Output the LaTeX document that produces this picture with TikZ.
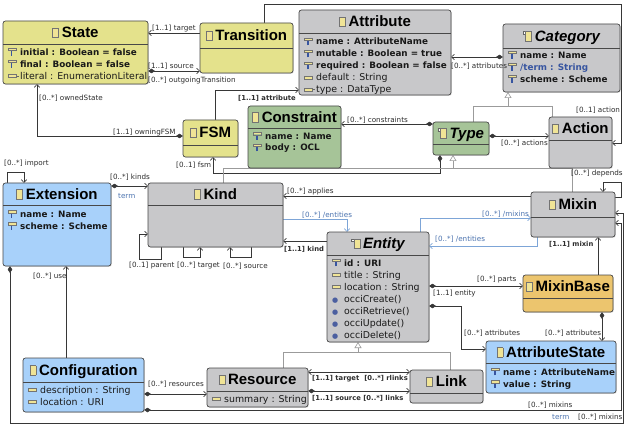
\documentclass[tikz,border=0pt]{standalone}
\usepackage{fontspec}
\setmainfont{DejaVu Sans}
\newfontfamily\titlefont{Liberation Sans}
\usetikzlibrary{arrows.meta,shadows}
\definecolor{cyel}{RGB}{228,226,140}
\definecolor{cgray}{RGB}{200,200,202}
\definecolor{cgreen}{RGB}{166,196,152}
\definecolor{cblue}{RGB}{168,209,250}
\definecolor{corange}{RGB}{236,197,110}
\definecolor{cborder}{RGB}{72,72,72}
\definecolor{clink}{RGB}{55,55,55}
\definecolor{cderiv}{RGB}{125,165,215}
\definecolor{cgen}{RGB}{155,155,155}
\definecolor{ctxt}{RGB}{45,45,45}
\definecolor{cbtxt}{RGB}{75,115,175}
\definecolor{iconyel}{RGB}{240,228,150}
\definecolor{keyblue}{RGB}{55,85,160}
\definecolor{opblue}{RGB}{75,95,160}
\pgfdeclarelayer{bgw}
\pgfdeclarelayer{bg}
\pgfdeclarelayer{fg}
\pgfsetlayers{bgw,bg,main,fg}
\newcommand\icCls{{\fboxsep=0pt\fboxrule=0.5pt\raisebox{0.5pt}{\fcolorbox{black!55}{iconyel}{\phantom{\rule{5.5pt}{9pt}}}}}}
\newcommand\icAbs{{\fboxsep=0pt\fboxrule=0.4pt\raisebox{7.5pt}{\fcolorbox{black!60}{white}{\phantom{\rule{2pt}{2pt}}}}}\hspace{-0.6pt}\icCls}
\newcommand\icReq{{\fboxsep=0pt\fboxrule=0.45pt\rlap{\hspace{3.2pt}\textcolor{keyblue}{\rule[-0.3pt]{1.1pt}{4.8pt}}}\raisebox{5pt}{\fcolorbox{black!55}{iconyel}{\phantom{\rule{7.5pt}{1.8pt}}}}}}
\newcommand\icAtt{{\fboxsep=0pt\fboxrule=0.45pt\raisebox{2.2pt}{\fcolorbox{black!55}{iconyel}{\phantom{\rule{7.5pt}{2.4pt}}}}}}
\newcommand\icRef{\icAtt\textcolor{black!60}{\rule[3.2pt]{2.5pt}{0.6pt}}}
\newcommand\icOp{\textcolor{opblue}{\fontsize{7}{7}\selectfont ●}}
\newcommand\umlcls[8]{%
  \node[clsbox, fill=#6, minimum width={(#4-#2)*1pt}, minimum height={(#5-#3)*1pt}] (#1) at ({(#2+#4)/2},{(#3+#5)/2}) {};
  \draw[sepline] (#1.west |- 0,#7) -- (#1.east |- 0,#7);
  \node[ttl] (#1t) at ({(#2+#4)/2},{(#3+#7)/2}) {#8};}
\newcommand\umlrow[6]{\node[#4] (#1) at (#2,#3) {\makebox[12pt][l]{#5}#6};}
\begin{document}
\begin{tikzpicture}[x=1pt,y=-1pt,
  clsbox/.style={draw=cborder, line width=0.7pt, rounded corners=2.5pt, inner sep=0pt, outer sep=0pt,
     drop shadow={shadow xshift=0.8pt, shadow yshift=-0.8pt, opacity=0.25}},
  sepline/.style={draw=cborder, line width=0.6pt},
  ttl/.style={font=\titlefont\fontsize{15}{18}\selectfont\bfseries, inner sep=0pt, text height=10.8pt, text depth=0pt},
  rowreg/.style={font=\fontsize{9.4}{11}\selectfont, inner sep=0pt, anchor=base west, text=black!90},
  rowbold/.style={rowreg, font=\fontsize{8.8}{11}\selectfont\bfseries},
  rowblue/.style={rowbold, text=keyblue},
  lbl/.style={font=\fontsize{7.2}{8}\selectfont, text=ctxt, inner sep=0pt, anchor=west},
  lblb/.style={lbl, font=\fontsize{6.8}{8}\selectfont\bfseries},
  lblblue/.style={lbl, text=cbtxt},
  assoc/.style={draw=clink, line width=0.6pt},
  derived/.style={draw=cderiv, line width=0.6pt},
  genline/.style={draw=cgen, line width=0.6pt},
  ob/.tip={Straight Barb[length=3pt,width=5.5pt,line width=0.6pt]},
  dm/.tip={Diamond[length=7pt,width=4.5pt]},
  tri/.tip={Triangle[open,length=6pt,width=7pt,fill=white]}]
\begin{pgfonlayer}{bgw}
\fill[white] (0,0) rectangle (624,425);
\end{pgfonlayer}
\useasboundingbox (0,0) rectangle (624,425);

% ---------- classes ----------
\umlcls{state}{3}{21}{148}{84}{cyel}{44}{\icCls\hspace{3pt}State}
\umlcls{transition}{200}{23}{293}{73}{cyel}{48}{\icCls\hspace{3pt}Transition}
\umlcls{attribute}{299}{10}{451}{95}{cgray}{33}{\icCls\hspace{3pt}Attribute}
\umlcls{category}{503}{24}{620}{92}{cgray}{48}{\icAbs\hspace{3pt}\itshape Category}
\umlcls{fsm}{183}{120}{238}{157}{cyel}{145}{\icCls\hspace{3pt}FSM}
\umlcls{constraint}{248}{106}{341}{168}{cgreen}{128}{\icCls\hspace{3pt}Constraint}
\umlcls{type}{433}{122}{489}{155}{cgreen}{144}{\icAbs\hspace{3pt}\itshape Type}
\umlcls{action}{549}{117}{612}{168}{cgray}{140}{\icCls\hspace{3pt}Action}
\umlcls{extension}{3}{183}{111}{266}{cblue}{205}{\icCls\hspace{3pt}Extension}
\umlcls{kind}{148}{183}{283}{247}{cgray}{205}{\icCls\hspace{3pt}Kind}
\umlcls{mixin}{531}{192}{615}{237}{cgray}{217}{\icCls\hspace{3pt}Mixin}
\umlcls{entity}{327}{232}{429}{342}{cgray}{255}{\icAbs\hspace{3pt}\itshape Entity}
\umlcls{mixinbase}{523}{275}{613}{312}{corange}{298}{\icCls\hspace{3pt}MixinBase}
\umlcls{attrstate}{486}{341}{616}{393}{cblue}{363}{\icCls\hspace{3pt}AttributeState}
\umlcls{configuration}{23}{358}{144}{412}{cblue}{382}{\icCls\hspace{3pt}Configuration}
\umlcls{resource}{207}{368}{308}{407}{cgray}{391}{\icCls\hspace{3pt}Resource}
\umlcls{link}{410}{370}{483}{403}{cgray}{393}{\icCls\hspace{3pt}Link}

% ---------- attributes ----------
\umlrow{st1}{8}{55.5}{rowbold}{\icReq}{initial : Boolean = false}
\umlrow{st2}{8}{67.5}{rowbold}{\icReq}{final : Boolean = false}
\umlrow{st3}{8}{79.5}{rowreg}{\icRef}{literal : EnumerationLiteral}
\umlrow{at1}{304}{45}{rowbold}{\icReq}{name : AttributeName}
\umlrow{at2}{304}{57}{rowbold}{\icReq}{mutable : Boolean = true}
\umlrow{at3}{304}{69}{rowbold}{\icReq}{required : Boolean = false}
\umlrow{at4}{304}{81}{rowreg}{\icAtt}{default : String}
\umlrow{at5}{304}{93}{rowreg}{\icRef}{type : DataType}
\umlrow{ca1}{508}{58.5}{rowbold}{\icReq}{name : Name}
\umlrow{ca2}{508}{70.5}{rowblue}{\icReq}{/term : String}
\umlrow{ca3}{508}{82.5}{rowbold}{\icReq}{scheme : Scheme}
\umlrow{co1}{253}{139.5}{rowbold}{\icReq}{name : Name}
\umlrow{co2}{253}{151}{rowbold}{\icReq}{body : OCL}
\umlrow{ex1}{8}{217.5}{rowbold}{\icReq}{name : Name}
\umlrow{ex2}{8}{229.5}{rowbold}{\icReq}{scheme : Scheme}
\umlrow{en1}{332}{266}{rowbold}{\icReq}{id : URI}
\umlrow{en2}{332}{278}{rowreg}{\icAtt}{title : String}
\umlrow{en3}{332}{290}{rowreg}{\icAtt}{location : String}
\umlrow{en4}{332}{302}{rowreg}{\icOp}{occiCreate()}
\umlrow{en5}{332}{314}{rowreg}{\icOp}{occiRetrieve()}
\umlrow{en6}{332}{326}{rowreg}{\icOp}{occiUpdate()}
\umlrow{en7}{332}{338}{rowreg}{\icOp}{occiDelete()}
\umlrow{cf1}{28}{393}{rowreg}{\icAtt}{description : String}
\umlrow{cf2}{28}{405}{rowreg}{\icAtt}{location : URI}
\umlrow{re1}{212}{402.5}{rowreg}{\icAtt}{summary : String}
\umlrow{as1}{491}{375}{rowbold}{\icReq}{name : AttributeName}
\umlrow{as2}{491}{387.5}{rowbold}{\icReq}{value : String}

% ---------- connectors ----------
\begin{pgfonlayer}{bg}
% State / Transition / FSM
\draw[assoc,-ob] (transition.west |- 0,33) -- (state.east |- 0,33);
\draw[assoc,dm-ob] (state.east |- 0,71) -- (transition.west |- 0,71);
\draw[assoc,dm-ob] (fsm.west |- 0,136) -| (state.south -| 37,0);
\draw[assoc,-ob] (transition.north -| 264,0) |- (621,4) |- (action.east |- 0,143);
\draw[assoc,-ob] (fsm.north -| 215,0) |- (attribute.west |- 0,90);
% Category / Type / Action
\draw[assoc,dm-ob] (category.west |- 0,57) -- (attribute.east |- 0,57);
\draw[genline] (type.north -| 473,0) |- (552,106) -- (action.north -| 552,0);
\coordinate (gcat) at (508,106);
\draw[genline,-tri] (gcat) -- (category.south -| 508,0);
\draw[assoc,dm-ob] (type.west |- 0,124) -- (constraint.east |- 0,124);
\draw[assoc,dm-ob] (type.east |- 0,136) -- (action.west |- 0,136);
\draw[assoc,dm-ob] (type.south -| 440,0) |- (213,173) -- (fsm.south -| 213,0);
\draw[genline] (kind.north -| 223,0) |- (572,168) -- (mixin.north -| 572,0);
\coordinate (gtype) at (453,168);
\draw[genline,-tri] (gtype) -- (type.south -| 453,0);
% Extension / Kind
\draw[assoc,-ob] (extension.north -| 7,0) |- (24,172) -- (extension.north -| 24,0);
\draw[assoc,dm-ob] (extension.east |- 0,186) -- (kind.west |- 0,186);
\draw[assoc,-ob] (kind.south -| 161,0) |- (139,259) |- (kind.west |- 0,234);
\draw[assoc,-ob] (kind.south -| 183,0) |- (200,257) -- (kind.south -| 200,0);
\draw[assoc,-ob] (kind.south -| 251,0) |- (230,257) -- (kind.south -| 230,0);
\draw[assoc,-ob] (mixin.west |- 0,196) -- (kind.east |- 0,196);
\draw[derived,-ob] (kind.east |- 0,219) -| (entity.north -| 347,0);
\draw[assoc,-ob] (entity.west |- 0,241) -- (kind.east |- 0,241);
% Entity / Mixin
\draw[derived,-ob] (entity.north -| 420,0) |- (mixin.west |- 0,218);
\draw[derived,-ob] (mixin.south -| 537,0) |- (entity.east |- 0,246);
\draw[assoc,-ob] (mixin.east |- 0,197) -| (621,182) -| (mixin.north -| 603,0);
\draw[assoc,dm-ob] (configuration.east |- 0,410) -| (621,223) -- (mixin.east |- 0,223);
\draw[assoc,dm-ob] (extension.south -| 10,0) |- (623.5,423) |- (mixin.east |- 0,213);
% Configuration / Resource / Link
\draw[assoc,-ob] (configuration.north -| 66,0) -- (extension.south -| 66,0);
\draw[assoc,dm-ob] (configuration.east |- 0,394) -- (resource.west |- 0,394);
\draw[genline] (resource.north -| 283,0) |- (450,352) -- (link.north -| 450,0);
\coordinate (gent) at (358,352);
\draw[genline,-tri] (gent) -- (entity.south -| 358,0);
\draw[assoc,ob-ob] (resource.east |- 0,372) -- (link.west |- 0,372);
\draw[assoc,dm-ob] (resource.east |- 0,391) -- (link.west |- 0,391);
% Entity / MixinBase / AttributeState
\draw[assoc,dm-ob] (entity.east |- 0,286) -- (mixinbase.west |- 0,286);
\draw[assoc,dm-ob] (entity.east |- 0,306) -| (461,349) -- (attrstate.west |- 0,349);
\draw[assoc,dm-ob] (mixinbase.south -| 602,0) -- (attrstate.north -| 602,0);
\draw[assoc,-ob] (mixinbase.north -| 598,0) -- (mixin.south -| 598,0);
\end{pgfonlayer}

% ---------- labels ----------
\begin{pgfonlayer}{fg}
\node[lbl] (l1) at (152,29) {[1..1] target};
\node[lbl] (l2) at (148,66.5) {[1..1] source};
\node[lbl] (l3) at (148,81) {[0..*] outgoingTransition};
\node[lbl] (l4) at (39,98) {[0..*] ownedState};
\node[lbl] (l5) at (113,132.5) {[1..1] owningFSM};
\node[lblb] (l6) at (238,98) {[1..1] attribute};
\node[lbl] (l7) at (451,66) {[0..*] attributes};
\node[lbl] (l8) at (576,110) {[0..1] action};
\node[lbl] (l9) at (347,120) {[0..*] constraints};
\node[lbl] (l10) at (501,143) {[0..*] actions};
\node[lbl] (l11) at (176,165) {[0..1] fsm};
\node[lbl] (l12) at (4,164) {[0..*] import};
\node[lbl] (l13) at (110,177.5) {[0..*] kinds};
\node[lblblue] (l14) at (118,196) {term};
\node[lbl] (l15) at (129,266) {[0..1] parent};
\node[lbl] (l16) at (177,266) {[0..*] target};
\node[lbl] (l17) at (223,266) {[0..*] source};
\node[lbl] (l18) at (287,192) {[0..*] applies};
\node[lblblue] (l19) at (302,215) {[0..*] /entities};
\node[lblb] (l20) at (284,249) {[1..1] kind};
\node[lblblue] (l21) at (482,214) {[0..*] /mixins};
\node[lblblue] (l22) at (435,239.5) {[0..*] /entities};
\node[lbl] (l23) at (571,174) {[0..*] depends};
\node[lblb] (l24) at (549,244) {[1..1] mixin};
\node[lbl] (l25) at (33,276) {[0..*] use};
\node[lbl] (l26) at (148,384.5) {[0..*] resources};
\node[lblb] (l27) at (312,379) {[1..1] target\hspace{5pt}[0..*] rlinks};
\node[lblb] (l28) at (312,398) {[1..1] source [0..*] links};
\node[lbl] (l29) at (477,280) {[0..*] parts};
\node[lbl] (l30) at (433,294) {[1..1] entity};
\node[lbl] (l31) at (464,333) {[0..*] attributes};
\node[lbl] (l32) at (545,333) {[0..*] attributes};
\node[lbl] (l33) at (528,405) {[0..*] mixins};
\node[lblblue] (l34) at (552,417) {term};
\node[lbl] (l35) at (578,417) {[0..*] mixins};
\end{pgfonlayer}
\end{tikzpicture}
\end{document}
